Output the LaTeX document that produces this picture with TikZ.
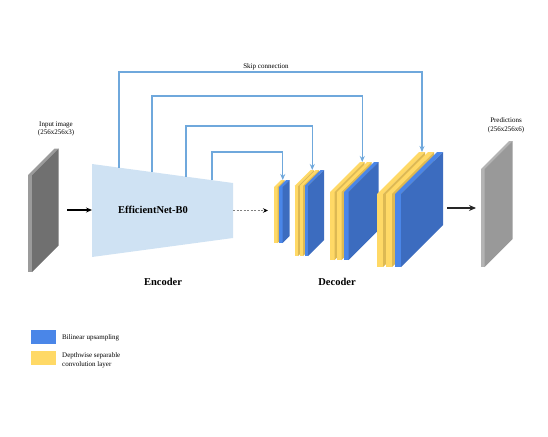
\documentclass[tikz,border=0pt]{standalone}
\usepackage{fontspec}
\setmainfont{Liberation Serif}
\usetikzlibrary{arrows.meta,positioning}

\definecolor{bfront}{HTML}{4A86E8}
\definecolor{bside}{HTML}{3C6CBF}
\definecolor{yfront}{HTML}{FFD966}
\definecolor{yside}{HTML}{DDB953}
\definecolor{gfront}{HTML}{9B9B9B}
\definecolor{gside}{HTML}{707070}
\definecolor{pfront}{HTML}{B4B4B4}
\definecolor{pside}{HTML}{999999}
\definecolor{skipblue}{HTML}{6FA8DC}
\definecolor{encfill}{HTML}{CFE2F3}

\begin{document}
\begin{tikzpicture}[x=1pt,y=-1pt,
  every node/.style={font=\fontsize{7}{8.5}\selectfont,inner sep=0pt},
  bold/.style={font=\fontsize{10.5}{12}\selectfont\bfseries},
  skip/.style={draw=skipblue,line width=1.3pt,-{Stealth[length=6pt,width=5pt]}},
  legbox/.style={minimum width=25pt,minimum height=14pt},
  pics/slab/.style n args={5}{code={
    \fill[#4] (0,0) rectangle (#1,-#2);
    \fill[#4] (0,-#2) -- (#1,-#2) -- ({#1+#3},{-#2-#3}) -- (#3,{-#2-#3}) -- cycle;
    \fill[#5] (#1,0) -- (#1,-#2) -- ({#1+#3},{-#2-#3}) -- ({#1+#3},-#3) -- cycle;
    \coordinate (-top) at ({#1/2+#3},{-#2-#3});
  }}]
\useasboundingbox (0,0) rectangle (548,436);

% input and encoder
\pic (inp) at (28,272) {slab={4}{97}{26.5}{gfront}{gside}};
\node[align=center] (inlabel) at (56,129) {Input image\\(256x256x3)};
\fill[encfill] (92,164) -- (233,183) -- (233,238) -- (92,257) -- cycle;
\node[bold] (enc) at (153,210) {EfficientNet-B0};
\node[bold] (encoder) at (163,282) {Encoder};

% decoder blocks
\pic (b1y1) at (274,243) {slab={3.5}{56}{7}{yfront}{yside}};
\pic (b1b) at (279,243) {slab={3.5}{56}{7}{bfront}{bside}};
\pic (b2y1) at (294.5,256) {slab={3.5}{70}{16}{yfront}{yside}};
\pic (b2y2) at (299.5,256) {slab={3.5}{70}{16}{yfront}{yside}};
\pic (b2b) at (304.5,256) {slab={3.5}{70}{16}{bfront}{bside}};
\pic (b3y1) at (330,260) {slab={4.5}{68}{30}{yfront}{yside}};
\pic (b3y2) at (337,260) {slab={4.5}{68}{30}{yfront}{yside}};
\pic (b3b) at (344,260) {slab={4.5}{68}{30}{bfront}{bside}};
\pic (b4y1) at (377,267) {slab={6}{73}{42}{yfront}{yside}};
\pic (b4y2) at (386,267) {slab={6}{73}{42}{yfront}{yside}};
\pic (b4b) at (395,267) {slab={6}{73}{42}{bfront}{bside}};
\node[bold] (decoder) at (337,282) {Decoder};

% output
\pic (pred) at (481,267) {slab={3.5}{98}{28}{pfront}{pside}};
\node[align=center] (predlabel) at (506,125.5) {Predictions\\(256x256x6)};

% skip connections
\coordinate (s1) at (119,167.6);
\coordinate (s2) at (152,172.1);
\coordinate (s3) at (186,176.7);
\coordinate (s4) at (212,180.2);
\coordinate (k1) at (266,72);
\coordinate (k2) at (260,96);
\coordinate (k3) at (250,126);
\coordinate (k4) at (250,152);
\draw[skip] (s1) |- (k1) -| (b4y1-top);
\draw[skip] (s2) |- (k2) -| (b3y1-top);
\draw[skip] (s3) |- (k3) -| (b2y1-top);
\draw[skip] (s4) |- (k4) -| (b1y1-top);
\node[above=2pt of k1] (skiplabel) {Skip connection};

% arrows
\coordinate (inA) at (67,210);
\coordinate (encL) at (92,210);
\coordinate (encR) at (233,210.5);
\coordinate (decA) at (268,210.5);
\coordinate (outA) at (447,208);
\coordinate (predA) at (476,208);
\draw[-{Stealth[length=6pt,width=5pt]}, line width=1.3pt] (inA) -- (encL);
\draw[-{Stealth[black,length=5pt,width=4.5pt]}, draw=gray, line width=1pt, dash pattern=on 2pt off 1.5pt] (encR) -- (decA);
\draw[-{Stealth[length=7pt,width=6pt]}, draw=black!85, line width=1.6pt] (outA) -- (predA);

% legend
\node[legbox,fill=bfront] (legb) at (43.5,337) {};
\node[legbox,fill=yfront] (legy) at (43.5,358) {};
\node[anchor=west] (legbtext) at (62,338) {Bilinear upsampling};
\node[anchor=west,align=left] (legytext) at (62,360.5) {Depthwise separable\\convolution layer};
\end{tikzpicture}
\end{document}
